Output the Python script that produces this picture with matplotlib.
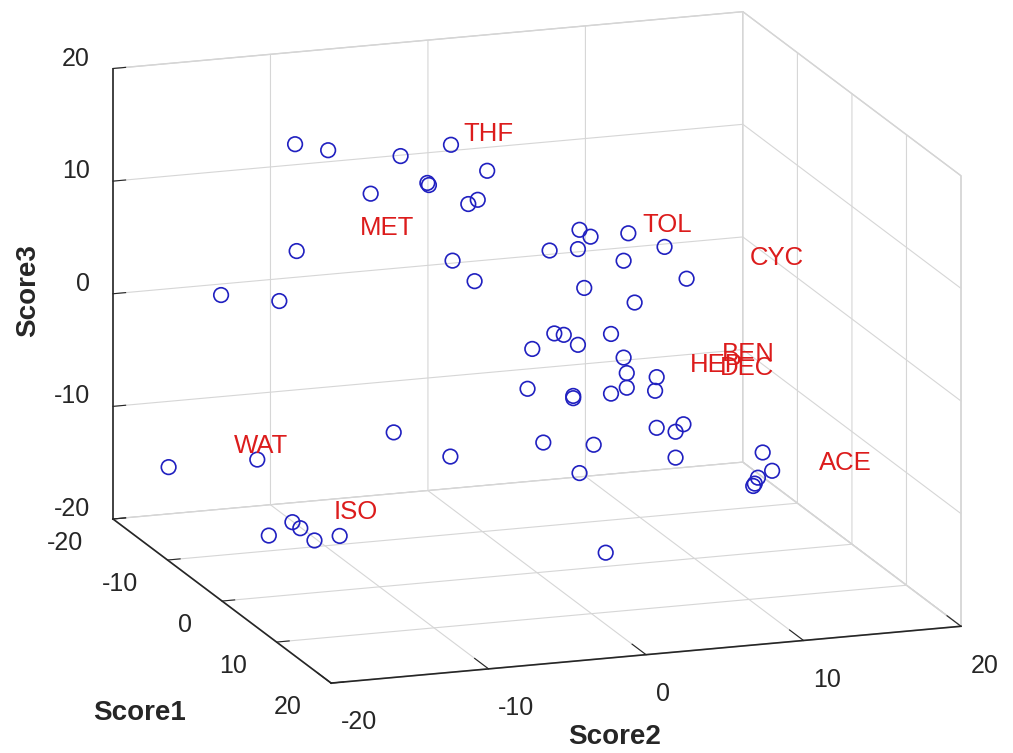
import matplotlib
matplotlib.use('AGG')
import matplotlib.pyplot as plt
from mpl_toolkits.mplot3d import proj3d

# scores of the samples (Score1, Score2, Score3)
score1 = [-10, -10, -10, -10, -10, -10, -10, -10, -10, -10, -10, -10, -10, -10, -10,
          0, 0, 0, 0, 0, 0, 0, 0, 0, 0, 0, 0, 0, 0, 0, 0, 0,
          0, 0, 0, 0, 0, 0, 0, 0, 0, 0, 0, 0, 0, 0, 0, 0,
          5, 5, 5, 5, 5, 10, -15, -10, -5, -5, -5, -5, -5]
score2 = [-11.9, -9.8, -5.2, -3.5, -3.4, -7.1, -11.8, -16.6, -12.9, -2.0, 0.3, -0.9, -0.3, -1.9, -0.5,
          2.7, 3.4, 2.6, 0.8, 5.8, 8.1, 5.5, 9.5, 3.0, 6.2, -0.3, 1.1, 1.7, 2.6, 4.7, 5.5, 5.7,
          5.7, 4.7, 7.6, 7.5, -0.6, 2.3, 2.3, 7.6, 8.8, 9.3, 8.8, 0.4, 3.6, -5.5, 2.7, -9.1,
          12.6, 13.2, 12.3, 12.1, 12.0, 0.9, -18.2, -14.3, -13.8, -13.3, -15.3, -12.4, -10.8]
score3 = [15.9, 15.1, 14.0, 11.4, 11.2, 10.9, 6.4, 3.1, 2.1, 14.6, 12.0, 9.2, 9.5, 4.3, 2.3,
          10.1, 9.4, 8.4, 8.5, 9.4, 7.9, 7.0, 4.9, 4.9, 3.2, -0.1, 1.1, 0.9, -0.1, 0.6, -1.6, -3.0,
          -4.3, -4.7, -3.6, -4.8, -3.6, -4.6, -4.8, -8.1, -8.6, -8.0, -10.9, -8.5, -9.1, -9.0, -11.5, -6.4,
          -9.1, -10.8, -11.3, -11.8, -12.0, -14.7, -13.8, -11.8, -15.6, -16.2, -16.6, -17.4, -17.2]

# solvent labels
names = ['THF', 'MET', 'TOL', 'CYC', 'HEP', 'BEN', 'DEC', 'ACE', 'WAT', 'ISO']
lab_s1 = [-10, -10, 0, 0, 0, 0, 0, 5, -10, -5]
lab_s2 = [-1.2, -7.8, 6.7, 13.5, 9.7, 11.75, 11.6, 16.2, -15.8, -11.2]
lab_s3 = [15.5, 7.9, 10.0, 6.2, -2.8, -2.1, -3.3, -10.5, -10.4, -15.0]

ticks = [-20, -10, 0, 10, 20]

plt.rcParams['font.family'] = ['Liberation Sans', 'DejaVu Sans']
plt.rcParams['axes.unicode_minus'] = False
plt.rcParams['grid.color'] = '#d6d6d6'
plt.rcParams['grid.linewidth'] = 0.8

W, H = 1013, 753
fig = plt.figure(figsize=(W / 100, H / 100), dpi=100)
ax = fig.add_axes([0, 0, 1, 1], projection='3d', proj_type='ortho')
ax.view_init(elev=15.1, azim=-19.1)
ax.set_box_aspect((1, 1, 0.7))

ax.scatter(score1, score2, score3, s=110, facecolors='none', edgecolors='#2020c0',
           linewidths=1.2, depthshade=False)
for n, x, y, z in zip(names, lab_s1, lab_s2, lab_s3):
    ax.text(x, y, z, n, color='#dc1c1c', fontsize=18.5, ha='left', va='center')

ax.set_xlim(-20, 20)
ax.set_ylim(-20, 20)
ax.set_zlim(-20, 20)
ax.set_xticks(ticks)
ax.set_yticks(ticks)
ax.set_zticks(ticks)
ax.zaxis.set_ticks_position('lower')
ax.tick_params(labelsize=18, colors='#262626')
ax.tick_params(axis='x', pad=10)
ax.tick_params(axis='y', pad=9)
ax.tick_params(axis='z', pad=2.5)
for axis in (ax.xaxis, ax.yaxis, ax.zaxis):
    axis.set_pane_color((1, 1, 1, 1))
    axis.pane.set_edgecolor('#d0d0d0')
    axis.line.set_color('#262626')
    axis.line.set_linewidth(1.2)
    axis._axinfo['tick']['inward_factor'] = 0.0
    axis.label.set_visible(False)
    axis.offsetText.set_visible(False)
ax.title.set_visible(False)
ax.xaxis._axinfo['tick']['outward_factor'] = 0.25
ax.yaxis._axinfo['tick']['outward_factor'] = 0.8
ax.zaxis._axinfo['tick']['outward_factor'] = 0.25
for t in ax.xaxis.get_major_ticks():
    t.label1.set_ha('right')
    t.label1.set_va('center')
for t in ax.yaxis.get_major_ticks():
    t.label1.set_ha('left')
    t.label1.set_va('top')
for t in ax.zaxis.get_major_ticks():
    t.label1.set_ha('right')
    t.label1.set_va('baseline')

fig.text(140 / W, 1 - 713 / H, 'Score1', fontsize=20, fontweight='bold', color='#262626',
         ha='center', va='center')
fig.text(615 / W, 1 - 737 / H, 'Score2', fontsize=20, fontweight='bold', color='#262626',
         ha='center', va='center')
fig.text(28 / W, 1 - 291 / H, 'Score3', fontsize=20, fontweight='bold', color='#262626',
         ha='center', va='center', rotation=90)

# scale and move the axes so the box lands where the reference has it
fig.canvas.draw()


def to_px(x, y, z):
    px, py, _ = proj3d.proj_transform(x, y, z, ax.get_proj())
    return ax.transData.transform((px, py))


p1 = to_px(-20, -20, -20)
p2 = to_px(20, 20, -20)
t1 = (113, H - 519)
t2 = (961, H - 630)
s = (t2[0] - t1[0]) / (p2[0] - p1[0])
cx = t1[0] - s * (p1[0] - W / 2)
cy = t1[1] - s * (p1[1] - H / 2)
ax.set_position([(cx - s * W / 2) / W, (cy - s * H / 2) / H, s, s])

fig.savefig('out.png', dpi=100)
